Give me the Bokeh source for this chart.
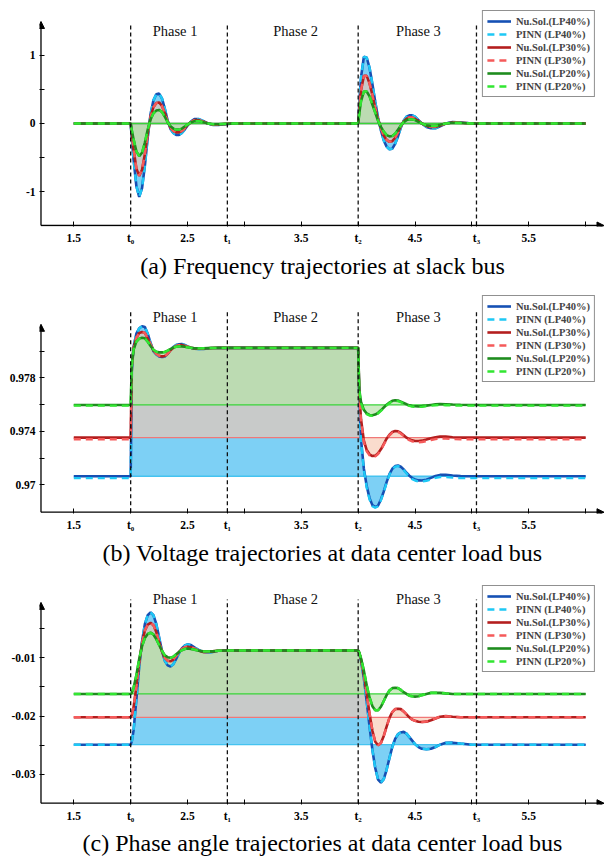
from bokeh.plotting import figure
from bokeh.layouts import column
from bokeh.models import Range1d, FixedTicker, Arrow, NormalHead, Title, CustomJSTickFormatter
from bokeh.core.properties import value
from bokeh.embed import file_html
from bokeh.resources import INLINE

SERIF = "Liberation Serif"

# ---------------------------------------------------------------- data
# time samples (s): before t0 | phase 1 (2.0-3.0) | phase 3 (4.0-6.0)
time = [
    1.5,
    2.0, 2.01, 2.025, 2.05, 2.075, 2.1, 2.125, 2.15, 2.175, 2.2, 2.225, 2.25, 2.275, 2.3, 2.325, 2.35,
    2.375, 2.4, 2.425, 2.45, 2.475, 2.5, 2.53, 2.56, 2.6, 2.64, 2.68, 2.72, 2.77, 2.83, 2.9, 3.0,
    4.0, 4.01, 4.025, 4.05, 4.075, 4.1, 4.125, 4.15, 4.175, 4.2, 4.225, 4.25, 4.275, 4.3, 4.325, 4.35,
    4.375, 4.4, 4.425, 4.45, 4.475, 4.5, 4.53, 4.56, 4.6, 4.64, 4.68, 4.72, 4.77, 4.83, 4.9, 5.0, 6.0,
]

event_times = [2.0, 2.85, 4.0, 5.04]
phase_labels = ["Phase 1", "Phase 2", "Phase 3"]
phase_centers = [2.39, 3.45, 4.53]
x_ticks = [1.5, 2.0, 2.5, 2.85, 3.0, 3.5, 4.0, 4.5, 5.0, 5.04, 5.5, 6.0]
x_tick_labels = ["1.5", "t\u2080", "2.5", "t\u2081", "", "3.5", "t\u2082", "4.5", "", "t\u2083", "5.5", ""]

series_labels_nu = ["Nu.Sol.(LP40%)", "Nu.Sol.(LP30%)", "Nu.Sol.(LP20%)"]
series_labels_pinn = ["PINN (LP40%)", "PINN (LP30%)", "PINN (LP20%)"]

# (a) frequency at slack bus
freq_nu_40 = [
    0.0,
    0.0, -0.22, -0.52, -0.92, -1.08, -0.95, -0.62, -0.2, 0.14, 0.34, 0.43, 0.44, 0.37, 0.22, 0.04, -0.08,
    -0.14, -0.168, -0.17, -0.14, -0.09, -0.03, 0.03, 0.065, 0.065, 0.035, 0.0, -0.02, -0.022, -0.01, 0.0, 0.0,
    0.0, 0.3, 0.68, 0.98, 0.97, 0.82, 0.58, 0.32, 0.08, -0.1, -0.25, -0.34, -0.38, -0.37, -0.3, -0.19,
    -0.06, 0.04, 0.1, 0.12, 0.12, 0.1, 0.05, 0.0, -0.05, -0.07, -0.07, -0.04, 0.0, 0.02, 0.015, 0.0, 0.0,
]
freq_nu_30 = [
    0.0,
    0.0, -0.16, -0.37, -0.66, -0.77, -0.68, -0.45, -0.15, 0.1, 0.24, 0.3, 0.31, 0.26, 0.15, 0.03, -0.06,
    -0.11, -0.13, -0.13, -0.11, -0.07, -0.02, 0.02, 0.05, 0.05, 0.025, 0.0, -0.015, -0.015, -0.008, 0.0, 0.0,
    0.0, 0.22, 0.49, 0.7, 0.7, 0.59, 0.42, 0.23, 0.06, -0.07, -0.18, -0.24, -0.27, -0.26, -0.21, -0.13,
    -0.04, 0.03, 0.07, 0.09, 0.09, 0.07, 0.035, 0.0, -0.035, -0.05, -0.05, -0.03, 0.0, 0.015, 0.01, 0.0, 0.0,
]
freq_nu_20 = [
    0.0,
    0.0, -0.1, -0.23, -0.41, -0.48, -0.43, -0.28, -0.09, 0.06, 0.15, 0.19, 0.2, 0.17, 0.1, 0.02, -0.04,
    -0.075, -0.09, -0.09, -0.075, -0.045, -0.015, 0.015, 0.035, 0.035, 0.018, 0.0, -0.01, -0.01, -0.005, 0.0, 0.0,
    0.0, 0.15, 0.33, 0.47, 0.47, 0.4, 0.28, 0.16, 0.04, -0.05, -0.12, -0.17, -0.19, -0.185, -0.15, -0.09,
    -0.03, 0.02, 0.05, 0.06, 0.06, 0.05, 0.025, 0.0, -0.025, -0.035, -0.035, -0.02, 0.0, 0.01, 0.007, 0.0, 0.0,
]
# the PINN curves coincide with the numerical solution here
freq_pinn_40 = list(freq_nu_40)
freq_pinn_30 = list(freq_nu_30)
freq_pinn_20 = list(freq_nu_20)

# (b) voltage at data center load bus
volt_nu_40 = [
    0.97064,
    0.97064, 0.9785, 0.9803, 0.9813, 0.9817, 0.98185, 0.9818, 0.9813, 0.9806, 0.98, 0.97975, 0.9796, 0.97955, 0.97958, 0.9798, 0.9801,
    0.9803, 0.98045, 0.9805, 0.98052, 0.98045, 0.98035, 0.98025, 0.98018, 0.98015, 0.98016, 0.9802, 0.98023, 0.98024, 0.98024, 0.98024, 0.98024,
    0.98024, 0.9765, 0.9734, 0.9712, 0.9699, 0.969, 0.96848, 0.96833, 0.96845, 0.9689, 0.9695, 0.9702, 0.9708, 0.9712, 0.9714, 0.97144,
    0.97135, 0.97115, 0.9709, 0.97068, 0.9705, 0.9704, 0.97033, 0.97032, 0.97038, 0.97052, 0.97066, 0.97074, 0.97075, 0.9707, 0.97065, 0.97064, 0.97064,
]
volt_pinn_40 = [
    0.9705,
    0.9705, 0.9784, 0.9803, 0.9813, 0.9817, 0.98185, 0.9818, 0.9813, 0.9806, 0.98, 0.97975, 0.9796, 0.97955, 0.97958, 0.9798, 0.9801,
    0.9803, 0.98045, 0.9805, 0.98052, 0.98045, 0.98035, 0.98025, 0.98018, 0.98015, 0.98016, 0.9802, 0.98023, 0.98024, 0.98024, 0.98024, 0.98024,
    0.98024, 0.9764, 0.9733, 0.9711, 0.9698, 0.9689, 0.9684, 0.96828, 0.9684, 0.96885, 0.96945, 0.97015, 0.97075, 0.97115, 0.97135, 0.9714,
    0.9713, 0.9711, 0.97085, 0.9706, 0.97042, 0.97032, 0.97025, 0.97024, 0.9703, 0.9704, 0.97052, 0.97058, 0.97058, 0.97054, 0.9705, 0.9705, 0.9705,
]
volt_nu_30 = [
    0.97353,
    0.97353, 0.9788, 0.9802, 0.981, 0.98135, 0.98142, 0.98135, 0.98095, 0.9805, 0.98005, 0.9798, 0.97965, 0.9796, 0.97962, 0.9798, 0.98005,
    0.98025, 0.98038, 0.98044, 0.98045, 0.9804, 0.98032, 0.98025, 0.9802, 0.98018, 0.98019, 0.98021, 0.98023, 0.98024, 0.98024, 0.98024, 0.98024,
    0.98024, 0.9768, 0.9749, 0.9733, 0.9726, 0.97228, 0.97215, 0.97218, 0.97235, 0.97265, 0.97305, 0.97345, 0.97375, 0.97395, 0.97402, 0.974,
    0.97388, 0.9737, 0.97352, 0.9734, 0.97332, 0.97328, 0.97327, 0.9733, 0.97338, 0.97348, 0.97356, 0.9736, 0.9736, 0.97356, 0.97353, 0.97353, 0.97353,
]
volt_pinn_30 = [
    0.9734,
    0.9734, 0.9787, 0.9802, 0.981, 0.98135, 0.98142, 0.98135, 0.98095, 0.9805, 0.98005, 0.9798, 0.97965, 0.9796, 0.97962, 0.9798, 0.98005,
    0.98025, 0.98038, 0.98044, 0.98045, 0.9804, 0.98032, 0.98025, 0.9802, 0.98018, 0.98019, 0.98021, 0.98023, 0.98024, 0.98024, 0.98024, 0.98024,
    0.98024, 0.9767, 0.9748, 0.9732, 0.9725, 0.9722, 0.97208, 0.97212, 0.9723, 0.9726, 0.973, 0.9734, 0.9737, 0.9739, 0.97397, 0.97395,
    0.97383, 0.97365, 0.97347, 0.97334, 0.97325, 0.9732, 0.97318, 0.9732, 0.97327, 0.97335, 0.97342, 0.97345, 0.97345, 0.97342, 0.9734, 0.9734, 0.9734,
]
volt_nu_20 = [
    0.97597,
    0.97597, 0.979, 0.9801, 0.9807, 0.98093, 0.981, 0.98095, 0.9807, 0.98038, 0.9801, 0.97995, 0.9799, 0.9799, 0.97993, 0.98003, 0.98015,
    0.98026, 0.98032, 0.98035, 0.98035, 0.98032, 0.98028, 0.98024, 0.98021, 0.9802, 0.98021, 0.98022, 0.98023, 0.98024, 0.98024, 0.98024, 0.98024,
    0.98024, 0.9771, 0.9762, 0.9756, 0.97533, 0.97522, 0.9752, 0.97525, 0.97538, 0.97557, 0.97578, 0.97598, 0.97615, 0.97628, 0.97632, 0.9763,
    0.97622, 0.97612, 0.97602, 0.97594, 0.97589, 0.97587, 0.97586, 0.97588, 0.97592, 0.97597, 0.97601, 0.97603, 0.97602, 0.976, 0.97598, 0.97597, 0.97597,
]
volt_pinn_20 = [
    0.97592,
    0.97592, 0.9789, 0.9801, 0.9807, 0.98093, 0.981, 0.98095, 0.9807, 0.98038, 0.9801, 0.97995, 0.9799, 0.9799, 0.97993, 0.98003, 0.98015,
    0.98026, 0.98032, 0.98035, 0.98035, 0.98032, 0.98028, 0.98024, 0.98021, 0.9802, 0.98021, 0.98022, 0.98023, 0.98024, 0.98024, 0.98024, 0.98024,
    0.98024, 0.977, 0.9761, 0.9755, 0.97528, 0.97518, 0.97516, 0.97521, 0.97534, 0.97553, 0.97574, 0.97594, 0.97611, 0.97624, 0.97628, 0.97626,
    0.97618, 0.97608, 0.97598, 0.9759, 0.97585, 0.97583, 0.97582, 0.97584, 0.97588, 0.97592, 0.97595, 0.97596, 0.97595, 0.97594, 0.97592, 0.97592, 0.97592,
]

# (c) phase angle at data center load bus
angle_nu_40 = [
    -0.0249,
    -0.0249, -0.0243, -0.0225, -0.0172, -0.0115, -0.0072, -0.0042, -0.0027, -0.0022, -0.0027, -0.0042, -0.0065, -0.0088, -0.0105, -0.0113, -0.0115,
    -0.0111, -0.0102, -0.0092, -0.0084, -0.0079, -0.0077, -0.0078, -0.0082, -0.0087, -0.009, -0.0091, -0.009, -0.0088, -0.00875, -0.00875, -0.00875,
    -0.00875, -0.0092, -0.0105, -0.0135, -0.0175, -0.0218, -0.0258, -0.0289, -0.0309, -0.0314, -0.0308, -0.0292, -0.0272, -0.0253, -0.0239, -0.0231,
    -0.0228, -0.0227, -0.023, -0.0236, -0.0242, -0.0248, -0.0253, -0.0256, -0.02568, -0.0256, -0.0253, -0.0249, -0.02458, -0.02455, -0.0247, -0.0249, -0.0249,
]
angle_nu_30 = [
    -0.0202,
    -0.0202, -0.0198, -0.0185, -0.015, -0.0108, -0.0075, -0.0053, -0.0043, -0.004, -0.0044, -0.0056, -0.0073, -0.0089, -0.01, -0.0105, -0.0106,
    -0.0103, -0.0097, -0.009, -0.0085, -0.0082, -0.0081, -0.0082, -0.0084, -0.0088, -0.009, -0.009, -0.0089, -0.0088, -0.00875, -0.00875, -0.00875,
    -0.00875, -0.0092, -0.0103, -0.0128, -0.0162, -0.0196, -0.0225, -0.0244, -0.025, -0.0246, -0.0234, -0.0218, -0.0203, -0.0193, -0.0188, -0.01872,
    -0.0188, -0.0192, -0.0197, -0.0202, -0.0206, -0.0208, -0.02095, -0.021, -0.02095, -0.0207, -0.0204, -0.0201, -0.02, -0.0201, -0.0202, -0.0202, -0.0202,
]
angle_nu_20 = [
    -0.0162,
    -0.0162, -0.016, -0.0152, -0.013, -0.0102, -0.008, -0.0066, -0.0059, -0.0057, -0.006, -0.0068, -0.0078, -0.0088, -0.0096, -0.0099, -0.01,
    -0.0098, -0.0094, -0.009, -0.0087, -0.0085, -0.0084, -0.0085, -0.0086, -0.0088, -0.0089, -0.0089, -0.0089, -0.0088, -0.00875, -0.00875, -0.00875,
    -0.00875, -0.0091, -0.0101, -0.0122, -0.0147, -0.0168, -0.0183, -0.019, -0.019, -0.0184, -0.0174, -0.0164, -0.0156, -0.0152, -0.01514, -0.0152,
    -0.0155, -0.0159, -0.0162, -0.0165, -0.0166, -0.01665, -0.0166, -0.0164, -0.0162, -0.016, -0.016, -0.016, -0.0161, -0.0162, -0.0162, -0.0162, -0.0162,
]
angle_pinn_40 = list(angle_nu_40)
angle_pinn_30 = list(angle_nu_30)
angle_pinn_20 = list(angle_nu_20)

freq_y_ticks = [-1.0, -0.5, 0.0, 0.5, 1.0]
freq_y_labels = ["-1", "", "0", "", "1"]
volt_y_ticks = [0.97, 0.972, 0.974, 0.976, 0.978, 0.98]
volt_y_labels = ["0.97", "", "0.974", "", "0.978", ""]
angle_y_ticks = [-0.03, -0.025, -0.02, -0.015, -0.01, -0.005]
angle_y_labels = ["-0.03", "", "-0.02", "", "-0.01", ""]

captions = [
    "(a) Frequency trajectories at slack bus",
    "(b) Voltage trajectories at data center load bus",
    "(c) Phase angle trajectories at data center load bus",
]

# ---------------------------------------------------------------- style
NU_COLORS = ["#1550b4", "#b41e1e", "#1e8c1e"]
PINN_COLORS = ["#1ec8f5", "#f55a5a", "#32e632"]
FILL_COLORS = ["#26b1ee", "#f7c6ae", "#b7e2a8"]
FILL_ALPHAS = [0.6, 0.615, 0.69]
BASE_COLORS = ["#45c3f0", "#f07878", "#38d438"]

X_START, X_END = 1.1985, 6.1743   # frame edges
AX_X, X_TIP = 1.2116, 6.161       # y-axis position and x-axis arrow tip
FIG_W = 605


def tick_formatter(tick_vals, tick_texts):
    return CustomJSTickFormatter(args=dict(tvals=tick_vals, ttexts=tick_texts), code="""
        let best = -1, bd = Infinity;
        for (let i = 0; i < tvals.length; i++) {
            const d = Math.abs(tvals[i] - tick);
            if (d < bd) { bd = d; best = i; }
        }
        return (best >= 0 && bd < 1e-9) ? ttexts[best] : "";
    """)


def make_panel(nu, pinn, y_start, y_end, ax_y, y_arrow, dash_top, phase_y, y_ticks, y_labels,
               caption, height, border_bottom, cap_standoff):
    p = figure(width=FIG_W, height=height, x_range=Range1d(X_START, X_END),
               y_range=Range1d(y_start, y_end), output_backend="svg",
               toolbar_location=None, title=None,
               min_border_left=39, min_border_right=0, min_border_top=0,
               min_border_bottom=border_bottom)
    p.outline_line_color = None
    p.xgrid.visible = False
    p.ygrid.visible = False
    for ax in (p.xaxis[0], p.yaxis[0]):
        ax.axis_line_color = None
        ax.major_tick_in = 5
        ax.major_tick_out = 0
        ax.major_tick_line_color = "black"
        ax.minor_tick_line_color = None
        ax.major_label_text_font = SERIF
        ax.major_label_text_font_style = "bold"
        ax.major_label_text_font_size = "11.5px"
        ax.major_label_text_color = "black"
    p.xaxis.ticker = FixedTicker(ticks=x_ticks, minor_ticks=[])
    p.xaxis.formatter = tick_formatter(x_ticks, x_tick_labels)
    p.xaxis.major_label_standoff = 5
    p.yaxis.ticker = FixedTicker(ticks=y_ticks, minor_ticks=[])
    p.yaxis.formatter = tick_formatter(y_ticks, y_labels)
    p.yaxis.major_label_standoff = 4

    # filled areas between each trajectory and its pre-event level
    for k in range(3):
        base = [nu[k][0]] * len(time)
        p.varea(x=time, y1=nu[k], y2=base, fill_color=FILL_COLORS[k], fill_alpha=FILL_ALPHAS[k])
    for k in range(3):
        p.line(x=[time[0], time[-1]], y=[nu[k][0], nu[k][0]], line_color=BASE_COLORS[k], line_width=1.3)

    for k in range(3):
        p.line(x=time, y=nu[k], line_color=NU_COLORS[k], line_width=2.6,
               legend_label=series_labels_nu[k])
        p.line(x=time, y=pinn[k], line_color=PINN_COLORS[k], line_width=2.4,
               line_dash="7 5", legend_label=series_labels_pinn[k])

    # event markers
    n_ev = len(event_times)
    p.segment(x0=event_times, y0=[ax_y] * n_ev, x1=event_times, y1=[dash_top] * n_ev,
              line_color="#111111", line_width=1.3, line_dash="4 3")
    p.text(x=phase_centers, y=[phase_y] * len(phase_centers), text=phase_labels,
           text_font=value(SERIF), text_font_size="14.5px", text_align="center",
           text_baseline="middle", text_color="#111111")

    # axes with arrow heads
    p.add_layout(Arrow(end=NormalHead(size=7, fill_color="black", line_color="black", line_width=1),
                       x_start=AX_X, y_start=ax_y, x_end=AX_X, y_end=y_arrow,
                       line_color="black", line_width=1.3))
    p.add_layout(Arrow(end=NormalHead(size=7, fill_color="black", line_color="black", line_width=1),
                       x_start=AX_X, y_start=ax_y, x_end=X_TIP, y_end=ax_y,
                       line_color="black", line_width=1.3))

    lg = p.legend[0]
    lg.location = "top_right"
    lg.margin = 10
    lg.padding = 4
    lg.spacing = 1
    lg.label_height = 12
    lg.glyph_height = 12
    lg.glyph_width = 24
    lg.label_standoff = 5
    lg.label_text_font = SERIF
    lg.label_text_font_style = "bold"
    lg.label_text_font_size = "10.5px"
    lg.border_line_color = "#222222"
    lg.border_line_width = 1
    lg.background_fill_alpha = 1.0

    cap = Title(text=caption, align="center", offset=-16, text_font=SERIF,
                text_font_size="24px", text_font_style="normal", text_color="black",
                standoff=cap_standoff)
    p.add_layout(cap, "below")
    return p


pa = make_panel([freq_nu_40, freq_nu_30, freq_nu_20], [freq_pinn_40, freq_pinn_30, freq_pinn_20],
                -1.5147, 1.8088, -1.5, 1.5, 1.48, 1.353, freq_y_ticks, freq_y_labels,
                captions[0], 285, 59, 8)
pb = make_panel([volt_nu_40, volt_nu_30, volt_nu_20], [volt_pinn_40, volt_pinn_30, volt_pinn_20],
                0.967854, 0.984901, 0.96795, 0.982, 0.9831, 0.98258, volt_y_ticks, volt_y_labels,
                captions[1], 290, 62, 8)
pc = make_panel([angle_nu_40, angle_nu_30, angle_nu_20], [angle_pinn_40, angle_pinn_30, angle_pinn_20],
                -0.03515, 0.004109, -0.03493, -0.0005, 0.0, 0.0001, angle_y_ticks, angle_y_labels,
                captions[2], 286, 57, 7)

layout = column(pa, pb, pc, spacing=0)
open("out.html", "w").write(file_html(layout, INLINE))
